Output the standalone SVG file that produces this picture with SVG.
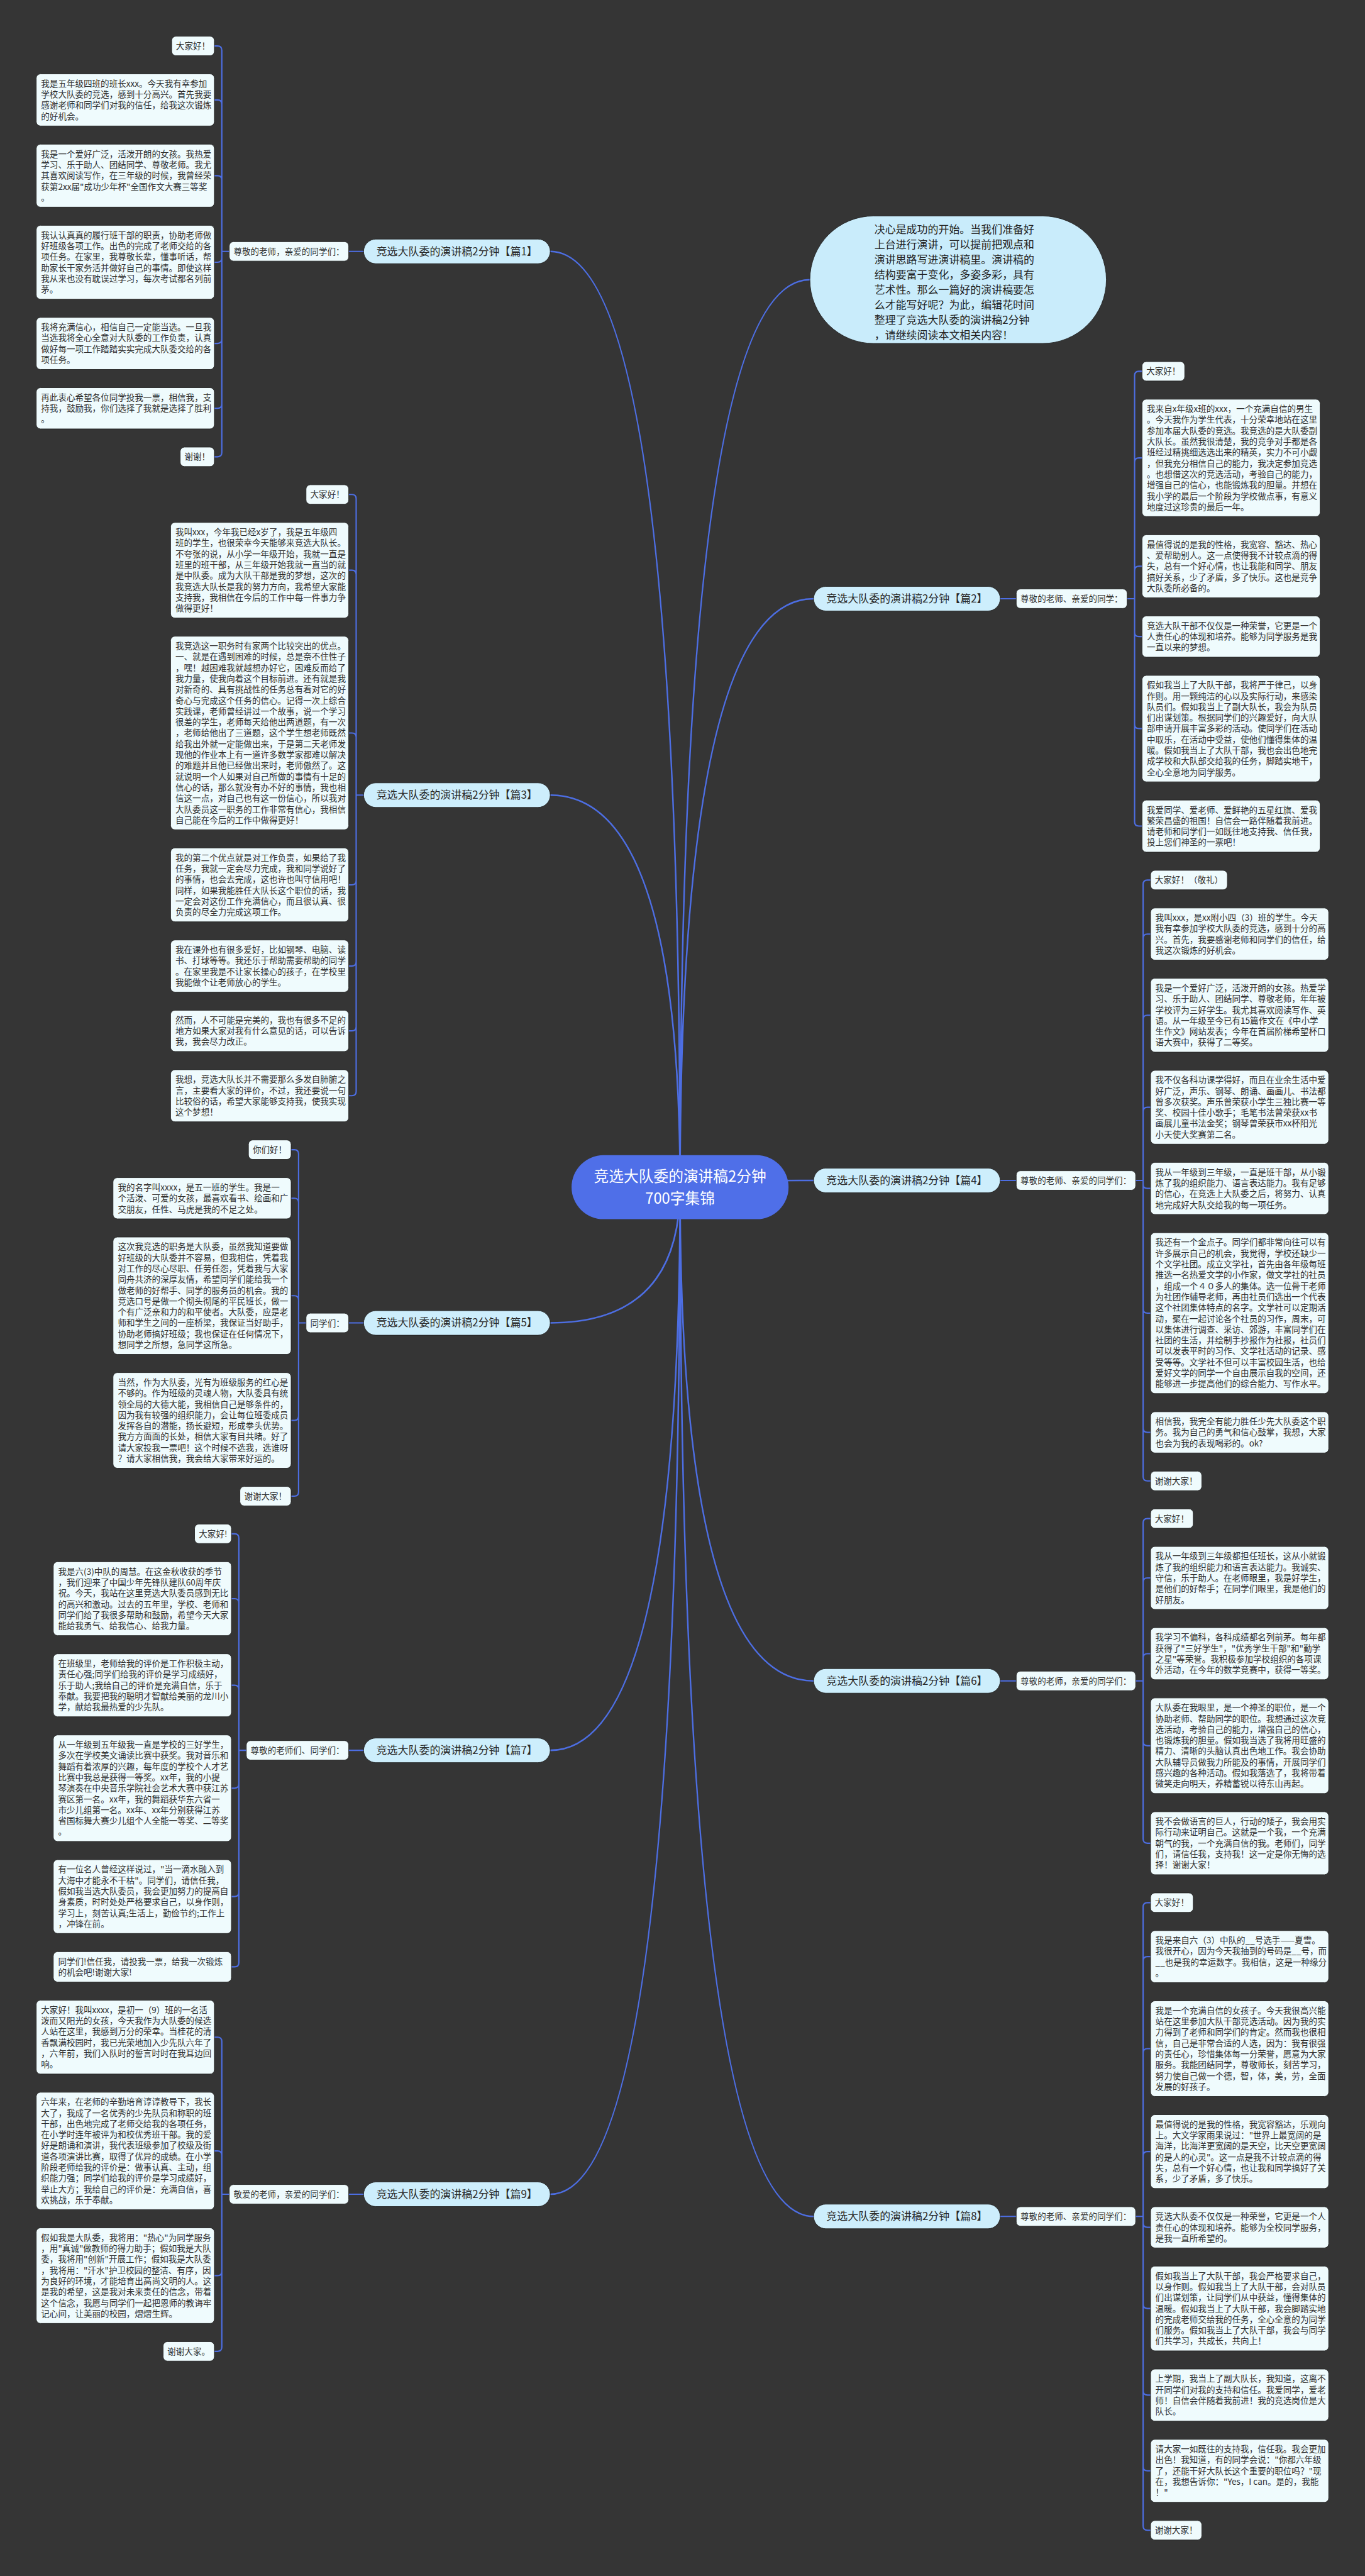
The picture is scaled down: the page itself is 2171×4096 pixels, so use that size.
<svg xmlns="http://www.w3.org/2000/svg" width="2171" height="4096" viewBox="0 0 2171 4096">
<style>
.t{font-family:"Noto Sans CJK SC","Noto Sans",sans-serif;font-size:16px;fill:#303030}
.lf{fill:#effbfd;stroke:#1f1f1f;stroke-width:1}
.pl{fill:#cdeefc;stroke:#1f1f1f;stroke-width:1}
.pt{font-family:"Noto Sans CJK SC","Noto Sans",sans-serif;font-size:20px;fill:#2a2a2a;text-anchor:middle}
.cn{fill:none;stroke:#4d6ee3;stroke-width:2.5;stroke-linecap:round}
.mc{fill:none;stroke:#4d6ee3;stroke-width:3}
</style>
<rect width="2171" height="4096" fill="#353535"/>
<g transform="scale(0.848)">
<g id="connectors">
<path class="mc" d="M1275.5 2226Q1275.5 471.4 1032 471.4M1275.5 2226Q1275.5 1490.9 1032 1490.9M1275.5 2226Q1275.5 2480.6 1032 2480.6M1275.5 2226Q1275.5 3282 1032 3282M1275.5 2226Q1275.5 4114.4 1032 4114.4M1275.5 2226Q1275.5 1122.6 1526 1122.6M1275.5 2226Q1275.5 2213.5 1526 2213.5M1275.5 2226Q1275.5 3151.8 1526 3151.8M1275.5 2226Q1275.5 4156 1526 4156M1275.5 2226Q1275.5 524.5 1519 524.5"/>
<path class="cn" d="M682 471.4H654M430 471.4H416V94.2Q416 86.2 408 86.2H402M416 471.4V195.4Q416 187.4 408 187.4H402M416 471.4V337.4Q416 329.4 408 329.4H402M416 471.4V483.8Q416 491.8 408 491.8H402M416 471.4V636Q416 644 408 644H402M416 471.4V757.6Q416 765.6 408 765.6H402M416 471.4V848.6Q416 856.6 408 856.6H402"/>
<path class="cn" d="M682 1490.9H668V935.2Q668 927.2 660 927.2H654M668 1490.9V1077.2Q668 1069.2 660 1069.2H654M668 1490.9V1382.4Q668 1374.4 660 1374.4H654M668 1490.9V1651.2Q668 1659.2 660 1659.2H654M668 1490.9V1803.4Q668 1811.4 660 1811.4H654M668 1490.9V1925Q668 1933 660 1933H654M668 1490.9V2046.6Q668 2054.6 660 2054.6H654"/>
<path class="cn" d="M682 2480.6H654M574 2480.6H560V2163.8Q560 2155.8 552 2155.8H546M560 2480.6V2254.8Q560 2246.8 552 2246.8H546M560 2480.6V2437.6Q560 2429.6 552 2429.6H546M560 2480.6V2655.4Q560 2663.4 552 2663.4H546M560 2480.6V2797.4Q560 2805.4 552 2805.4H546"/>
<path class="cn" d="M682 3282H654M462 3282H448V2884Q448 2876 440 2876H434M448 3282V3005.6Q448 2997.6 440 2997.6H434M448 3282V3168Q448 3160 440 3160H434M448 3282V3345Q448 3353 440 3353H434M448 3282V3548.2Q448 3556.2 440 3556.2H434M448 3282V3680Q448 3688 440 3688H434"/>
<path class="cn" d="M682 4114.4H654M430 4114.4H416V3827.8Q416 3819.8 408 3819.8H402M416 4114.4V4041.2Q416 4033.2 408 4033.2H402M416 4114.4V4259Q416 4267 408 4267H402M416 4114.4V4401Q416 4409 408 4409H402"/>
<path class="cn" d="M1876 1122.6H1906M2114 1122.6H2128V704.2Q2128 696.2 2136 696.2H2142M2128 1122.6V866.6Q2128 858.6 2136 858.6H2142M2128 1122.6V1069.8Q2128 1061.8 2136 1061.8H2142M2128 1122.6V1185.6Q2128 1193.6 2136 1193.6H2142M2128 1122.6V1358.2Q2128 1366.2 2136 1366.2H2142M2128 1122.6V1541Q2128 1549 2136 1549H2142"/>
<path class="cn" d="M1876 2213.5H1906M2130 2213.5H2144V1658.2Q2144 1650.2 2152 1650.2H2158M2144 2213.5V1759.4Q2144 1751.4 2152 1751.4H2158M2144 2213.5V1911.6Q2144 1903.6 2152 1903.6H2158M2144 2213.5V2084.2Q2144 2076.2 2152 2076.2H2158M2144 2213.5V2220.4Q2144 2228.4 2152 2228.4H2158M2144 2213.5V2454.2Q2144 2462.2 2152 2462.2H2158M2144 2213.5V2677.8Q2144 2685.8 2152 2685.8H2158M2144 2213.5V2768.8Q2144 2776.8 2152 2776.8H2158"/>
<path class="cn" d="M1876 3151.8H1906M2130 3151.8H2144V2855.4Q2144 2847.4 2152 2847.4H2158M2144 3151.8V2966.8Q2144 2958.8 2152 2958.8H2158M2144 3151.8V3108.8Q2144 3100.8 2152 3100.8H2158M2144 3151.8V3265.4Q2144 3273.4 2152 3273.4H2158M2144 3151.8V3448.2Q2144 3456.2 2152 3456.2H2158"/>
<path class="cn" d="M1876 4156H1906M2130 4156H2144V3575.6Q2144 3567.6 2152 3567.6H2158M2144 4156V3676.8Q2144 3668.8 2152 3668.8H2158M2144 4156V3849.4Q2144 3841.4 2152 3841.4H2158M2144 4156V4042.4Q2144 4034.4 2152 4034.4H2158M2144 4156V4168.4Q2144 4176.4 2152 4176.4H2158M2144 4156V4320.6Q2144 4328.6 2152 4328.6H2158M2144 4156V4483Q2144 4491 2152 4491H2158M2144 4156V4625Q2144 4633 2152 4633H2158M2144 4156V4736.4Q2144 4744.4 2152 4744.4H2158"/>
</g>

<g id="center">
<rect x="1072" y="2166" width="407" height="120" rx="60" fill="#4f6fe8"/>
<text class="pt" x="1275.5" y="2215.6" style="font-size:28px;fill:#ffffff">竞选大队委的演讲稿2分钟</text>
<text class="pt" x="1275.5" y="2257.6" style="font-size:28px;fill:#ffffff">700字集锦</text>
</g>

<g id="callout">
<rect x="1519" y="405" width="556" height="239" rx="119.5" fill="#c9ecfb" stroke="#1f1f1f" stroke-width="1"/>
<text class="t" x="1640" y="437.6" style="font-size:20px;fill:#222">
<tspan x="1640">决心是成功的开始。当我们准备好</tspan>
<tspan x="1640" dy="28.3">上台进行演讲，可以提前把观点和</tspan>
<tspan x="1640" dy="28.3">演讲思路写进演讲稿里。演讲稿的</tspan>
<tspan x="1640" dy="28.3">结构要富于变化，多姿多彩，具有</tspan>
<tspan x="1640" dy="28.3">艺术性。那么一篇好的演讲稿要怎</tspan>
<tspan x="1640" dy="28.3">么才能写好呢？为此，编辑花时间</tspan>
<tspan x="1640" dy="28.3">整理了竞选大队委的演讲稿2分钟</tspan>
<tspan x="1640" dy="28.3">，请继续阅读本文相关内容！</tspan>
</text>
</g>

<!-- PART 1 -->
<g id="b1"><rect class="pl" x="682" y="448.4" width="350" height="46" rx="23"/><text class="pt" x="857" y="478.4">竞选大队委的演讲稿2分钟【篇1】</text></g>
<g id="b1-l"><rect class="lf" x="430" y="453.2" width="224" height="36.4" rx="8"/><text class="t" x="438" y="477.4">尊敬的老师，亲爱的同学们：</text></g>
<g id="b1-1"><rect class="lf" x="322" y="68" width="80" height="36.4" rx="8"/><text class="t" x="330" y="92">大家好！</text></g>
<g id="b1-2"><rect class="lf" x="68" y="138.6" width="334" height="97.6" rx="8"/><text class="t" x="77" y="162.6"><tspan x="77">我是五年级四班的班长xxx。今天我有幸参加</tspan><tspan x="77" dy="20.4">学校大队委的竞选，感到十分高兴。首先我要</tspan><tspan x="77" dy="20.4">感谢老师和同学们对我的信任，给我这次锻炼</tspan><tspan x="77" dy="20.4">的好机会。</tspan></text></g>
<g id="b1-3"><rect class="lf" x="68" y="270.4" width="334" height="118" rx="8"/><text class="t" x="77" y="294.4"><tspan x="77">我是一个爱好广泛，活泼开朗的女孩。我热爱</tspan><tspan x="77" dy="20.4">学习、乐于助人、团结同学、尊敬老师。我尤</tspan><tspan x="77" dy="20.4">其喜欢阅读写作，在三年级的时候，我曾经荣</tspan><tspan x="77" dy="20.4">获第2xx届"成功少年杯"全国作文大赛三等奖</tspan><tspan x="77" dy="20.4">。</tspan></text></g>
<g id="b1-4"><rect class="lf" x="68" y="422.6" width="334" height="138.4" rx="8"/><text class="t" x="77" y="446.6"><tspan x="77">我认认真真的履行班干部的职责，协助老师做</tspan><tspan x="77" dy="20.4">好班级各项工作。出色的完成了老师交给的各</tspan><tspan x="77" dy="20.4">项任务。在家里，我尊敬长辈，懂事听话，帮</tspan><tspan x="77" dy="20.4">助家长干家务活并做好自己的事情。即使这样</tspan><tspan x="77" dy="20.4">我从来也没有耽误过学习，每次考试都名列前</tspan><tspan x="77" dy="20.4">茅。</tspan></text></g>
<g id="b1-5"><rect class="lf" x="68" y="595.2" width="334" height="97.6" rx="8"/><text class="t" x="77" y="619.2"><tspan x="77">我将充满信心，相信自己一定能当选。一旦我</tspan><tspan x="77" dy="20.4">当选我将全心全意对大队委的工作负责，认真</tspan><tspan x="77" dy="20.4">做好每一项工作踏踏实实完成大队委交给的各</tspan><tspan x="77" dy="20.4">项任务。</tspan></text></g>
<g id="b1-6"><rect class="lf" x="68" y="727" width="334" height="77.2" rx="8"/><text class="t" x="77" y="751"><tspan x="77">再此衷心希望各位同学投我一票，相信我，支</tspan><tspan x="77" dy="20.4">持我，鼓励我，你们选择了我就是选择了胜利</tspan><tspan x="77" dy="20.4">。</tspan></text></g>
<g id="b1-7"><rect class="lf" x="338" y="838.4" width="64" height="36.4" rx="8"/><text class="t" x="346" y="862.4">谢谢！</text></g>

<!-- PART 3 -->
<g id="b3"><rect class="pl" x="682" y="1467.9" width="350" height="46" rx="23"/><text class="pt" x="857" y="1497.9">竞选大队委的演讲稿2分钟【篇3】</text></g>
<g id="b3-1"><rect class="lf" x="574" y="909" width="80" height="36.4" rx="8"/><text class="t" x="582" y="933">大家好！</text></g>
<g id="b3-2"><rect class="lf" x="320" y="979.6" width="334" height="179.2" rx="8"/><text class="t" x="329" y="1003.6"><tspan x="329">我叫xxx，今年我已经x岁了，我是五年级四</tspan><tspan x="329" dy="20.4">班的学生，也很荣幸今天能够来竞选大队长。</tspan><tspan x="329" dy="20.4">不夸张的说，从小学一年级开始，我就一直是</tspan><tspan x="329" dy="20.4">班里的班干部，从三年级开始我就一直当的就</tspan><tspan x="329" dy="20.4">是中队委。成为大队干部是我的梦想，这次的</tspan><tspan x="329" dy="20.4">我竞选大队长是我的努力方向，我希望大家能</tspan><tspan x="329" dy="20.4">支持我，我相信在今后的工作中每一件事力争</tspan><tspan x="329" dy="20.4">做得更好！</tspan></text></g>
<g id="b3-3"><rect class="lf" x="320" y="1193" width="334" height="362.8" rx="8"/><text class="t" x="329" y="1217"><tspan x="329">我竞选这一职务时有家两个比较突出的优点。</tspan><tspan x="329" dy="20.4">一、就是在遇到困难的时候，总是奈不住性子</tspan><tspan x="329" dy="20.4">，嘿！越困难我就越想办好它，困难反而给了</tspan><tspan x="329" dy="20.4">我力量，使我向着这个目标前进。还有就是我</tspan><tspan x="329" dy="20.4">对新奇的、具有挑战性的任务总有着对它的好</tspan><tspan x="329" dy="20.4">奇心与完成这个任务的信心。记得一次上综合</tspan><tspan x="329" dy="20.4">实践课，老师曾经讲过一个故事，说一个学习</tspan><tspan x="329" dy="20.4">很差的学生，老师每天给他出两道题，有一次</tspan><tspan x="329" dy="20.4">，老师给他出了三道题，这个学生想老师既然</tspan><tspan x="329" dy="20.4">给我出外就一定能做出来，于是第二天老师发</tspan><tspan x="329" dy="20.4">现他的作业本上有一道许多数学家都难以解决</tspan><tspan x="329" dy="20.4">的难题并且他已经做出来时，老师傲然了。这</tspan><tspan x="329" dy="20.4">就说明一个人如果对自己所做的事情有十足的</tspan><tspan x="329" dy="20.4">信心的话，那么就没有办不好的事情，我也相</tspan><tspan x="329" dy="20.4">信这一点，对自己也有这一份信心，所以我对</tspan><tspan x="329" dy="20.4">大队委员这一职务的工作非常有信心，我相信</tspan><tspan x="329" dy="20.4">自己能在今后的工作中做得更好！</tspan></text></g>
<g id="b3-4"><rect class="lf" x="320" y="1590" width="334" height="138.4" rx="8"/><text class="t" x="329" y="1614"><tspan x="329">我的第二个优点就是对工作负责，如果给了我</tspan><tspan x="329" dy="20.4">任务，我就一定会尽力完成，我和同学说好了</tspan><tspan x="329" dy="20.4">的事情，也会去完成，这也许也叫守信用吧！</tspan><tspan x="329" dy="20.4">同样，如果我能胜任大队长这个职位的话，我</tspan><tspan x="329" dy="20.4">一定会对这份工作充满信心，而且很认真、很</tspan><tspan x="329" dy="20.4">负责的尽全力完成这项工作。</tspan></text></g>
<g id="b3-5"><rect class="lf" x="320" y="1762.6" width="334" height="97.6" rx="8"/><text class="t" x="329" y="1786.6"><tspan x="329">我在课外也有很多爱好，比如钢琴、电脑、读</tspan><tspan x="329" dy="20.4">书、打球等等。我还乐于帮助需要帮助的同学</tspan><tspan x="329" dy="20.4">。在家里我是不让家长操心的孩子，在学校里</tspan><tspan x="329" dy="20.4">我能做个让老师放心的学生。</tspan></text></g>
<g id="b3-6"><rect class="lf" x="320" y="1894.4" width="334" height="77.2" rx="8"/><text class="t" x="329" y="1918.4"><tspan x="329">然而，人不可能是完美的，我也有很多不足的</tspan><tspan x="329" dy="20.4">地方如果大家对我有什么意见的话，可以告诉</tspan><tspan x="329" dy="20.4">我，我会尽力改正。</tspan></text></g>
<g id="b3-7"><rect class="lf" x="320" y="2005.8" width="334" height="97.6" rx="8"/><text class="t" x="329" y="2029.8"><tspan x="329">我想，竞选大队长并不需要那么多发自肺腑之</tspan><tspan x="329" dy="20.4">言，主要看大家的评价，不过，我还要说一句</tspan><tspan x="329" dy="20.4">比较俗的话，希望大家能够支持我，使我实现</tspan><tspan x="329" dy="20.4">这个梦想！</tspan></text></g>

<!-- PART 5 -->
<g id="b5"><rect class="pl" x="682" y="2457.6" width="350" height="46" rx="23"/><text class="pt" x="857" y="2487.6">竞选大队委的演讲稿2分钟【篇5】</text></g>
<g id="b5-l"><rect class="lf" x="574" y="2462.4" width="80" height="36.4" rx="8"/><text class="t" x="582" y="2486.6">同学们：</text></g>
<g id="b5-1"><rect class="lf" x="466" y="2137.6" width="80" height="36.4" rx="8"/><text class="t" x="474" y="2161.6">你们好！</text></g>
<g id="b5-2"><rect class="lf" x="212" y="2208.2" width="334" height="77.2" rx="8"/><text class="t" x="221" y="2232.2"><tspan x="221">我的名字叫xxxx，是五一班的学生。我是一</tspan><tspan x="221" dy="20.4">个活泼、可爱的女孩，最喜欢看书、绘画和广</tspan><tspan x="221" dy="20.4">交朋友，任性、马虎是我的不足之处。</tspan></text></g>
<g id="b5-3"><rect class="lf" x="212" y="2319.6" width="334" height="220" rx="8"/><text class="t" x="221" y="2343.6"><tspan x="221">这次我竞选的职务是大队委，虽然我知道要做</tspan><tspan x="221" dy="20.4">好班级的大队委并不容易，但我相信，凭着我</tspan><tspan x="221" dy="20.4">对工作的尽心尽职、任劳任怨，凭着我与大家</tspan><tspan x="221" dy="20.4">同舟共济的深厚友情，希望同学们能给我一个</tspan><tspan x="221" dy="20.4">做老师的好帮手、同学的服务员的机会。我的</tspan><tspan x="221" dy="20.4">竞选口号是做一个彻头彻尾的平民班长，做一</tspan><tspan x="221" dy="20.4">个有广泛亲和力的和平使者。大队委，应是老</tspan><tspan x="221" dy="20.4">师和学生之间的一座桥梁，我保证当好助手，</tspan><tspan x="221" dy="20.4">协助老师搞好班级；我也保证在任何情况下，</tspan><tspan x="221" dy="20.4">想同学之所想，急同学这所急。</tspan></text></g>
<g id="b5-4"><rect class="lf" x="212" y="2573.8" width="334" height="179.2" rx="8"/><text class="t" x="221" y="2597.8"><tspan x="221">当然，作为大队委，光有为班级服务的红心是</tspan><tspan x="221" dy="20.4">不够的。作为班级的灵魂人物，大队委具有统</tspan><tspan x="221" dy="20.4">领全局的大德大能，我相信自己是够条件的，</tspan><tspan x="221" dy="20.4">因为我有较强的组织能力，会让每位班委成员</tspan><tspan x="221" dy="20.4">发挥各自的潜能，扬长避短，形成拳头优势。</tspan><tspan x="221" dy="20.4">我方方面面的长处，相信大家有目共睹。好了</tspan><tspan x="221" dy="20.4">请大家投我一票吧！这个时候不选我，选谁呀</tspan><tspan x="221" dy="20.4">？请大家相信我，我会给大家带来好运的。</tspan></text></g>
<g id="b5-5"><rect class="lf" x="450" y="2787.2" width="96" height="36.4" rx="8"/><text class="t" x="458" y="2811.2">谢谢大家！</text></g>

<!-- PART 7 -->
<g id="b7"><rect class="pl" x="682" y="3259" width="350" height="46" rx="23"/><text class="pt" x="857" y="3289">竞选大队委的演讲稿2分钟【篇7】</text></g>
<g id="b7-l"><rect class="lf" x="462" y="3263.8" width="192" height="36.4" rx="8"/><text class="t" x="470" y="3288">尊敬的老师们、同学们：</text></g>
<g id="b7-1"><rect class="lf" x="365" y="2857.8" width="69" height="36.4" rx="8"/><text class="t" x="373" y="2881.8">大家好!</text></g>
<g id="b7-2"><rect class="lf" x="100" y="2928.4" width="334" height="138.4" rx="8"/><text class="t" x="109" y="2952.4"><tspan x="109">我是六(3)中队的周慧。在这金秋收获的季节</tspan><tspan x="109" dy="20.4">，我们迎来了中国少年先锋队建队60周年庆</tspan><tspan x="109" dy="20.4">祝。今天，我站在这里竞选大队委员感到无比</tspan><tspan x="109" dy="20.4">的高兴和激动。过去的五年里，学校、老师和</tspan><tspan x="109" dy="20.4">同学们给了我很多帮助和鼓励，希望今天大家</tspan><tspan x="109" dy="20.4">能给我勇气、给我信心、给我力量。</tspan></text></g>
<g id="b7-3"><rect class="lf" x="100" y="3101" width="334" height="118" rx="8"/><text class="t" x="109" y="3125"><tspan x="109">在班级里，老师给我的评价是工作积极主动，</tspan><tspan x="109" dy="20.4">责任心强;同学们给我的评价是学习成绩好，</tspan><tspan x="109" dy="20.4">乐于助人;我给自己的评价是充满自信，乐于</tspan><tspan x="109" dy="20.4">奉献。我要把我的聪明才智献给美丽的龙川小</tspan><tspan x="109" dy="20.4">学，献给我最热爱的少先队。</tspan></text></g>
<g id="b7-4"><rect class="lf" x="100" y="3253.2" width="334" height="199.6" rx="8"/><text class="t" x="109" y="3277.2"><tspan x="109">从一年级到五年级我一直是学校的三好学生，</tspan><tspan x="109" dy="20.4">多次在学校美文诵读比赛中获奖。我对音乐和</tspan><tspan x="109" dy="20.4">舞蹈有着浓厚的兴趣，每年度的学校个人才艺</tspan><tspan x="109" dy="20.4">比赛中我总是获得一等奖。xx年，我的小提</tspan><tspan x="109" dy="20.4">琴演奏在中央音乐学院社会艺术大赛中获江苏</tspan><tspan x="109" dy="20.4">赛区第一名。xx年，我的舞蹈获华东六省一</tspan><tspan x="109" dy="20.4">市少儿组第一名。xx年、xx年分别获得江苏</tspan><tspan x="109" dy="20.4">省国标舞大赛少儿组个人全能一等奖、二等奖</tspan><tspan x="109" dy="20.4">。</tspan></text></g>
<g id="b7-5"><rect class="lf" x="100" y="3487" width="334" height="138.4" rx="8"/><text class="t" x="109" y="3511"><tspan x="109">有一位名人曾经这样说过，"当一滴水融入到</tspan><tspan x="109" dy="20.4">大海中才能永不干枯"。同学们，请信任我，</tspan><tspan x="109" dy="20.4">假如我当选大队委员，我会更加努力的提高自</tspan><tspan x="109" dy="20.4">身素质，时时处处严格要求自己，以身作则，</tspan><tspan x="109" dy="20.4">学习上，刻苦认真;生活上，勤俭节约;工作上</tspan><tspan x="109" dy="20.4">，冲锋在前。</tspan></text></g>
<g id="b7-6"><rect class="lf" x="100" y="3659.6" width="334" height="56.8" rx="8"/><text class="t" x="109" y="3683.6"><tspan x="109">同学们!信任我，请投我一票，给我一次锻炼</tspan><tspan x="109" dy="20.4">的机会吧!谢谢大家!</tspan></text></g>

<!-- PART 9 -->
<g id="b9"><rect class="pl" x="682" y="4091.4" width="350" height="46" rx="23"/><text class="pt" x="857" y="4121.4">竞选大队委的演讲稿2分钟【篇9】</text></g>
<g id="b9-l"><rect class="lf" x="430" y="4096.2" width="224" height="36.4" rx="8"/><text class="t" x="438" y="4120.4">敬爱的老师，亲爱的同学们：</text></g>
<g id="b9-1"><rect class="lf" x="68" y="3750.6" width="334" height="138.4" rx="8"/><text class="t" x="77" y="3774.6"><tspan x="77">大家好！我叫xxxx，是初一（9）班的一名活</tspan><tspan x="77" dy="20.4">泼而又阳光的女孩，今天我作为大队委的候选</tspan><tspan x="77" dy="20.4">人站在这里，我感到万分的荣幸。当桂花的清</tspan><tspan x="77" dy="20.4">香飘满校园时，我已光荣地加入少先队六年了</tspan><tspan x="77" dy="20.4">，六年前，我们入队时的誓言时时在我耳边回</tspan><tspan x="77" dy="20.4">响。</tspan></text></g>
<g id="b9-2"><rect class="lf" x="68" y="3923.2" width="334" height="220" rx="8"/><text class="t" x="77" y="3947.2"><tspan x="77">六年来，在老师的辛勤培育谆谆教导下，我长</tspan><tspan x="77" dy="20.4">大了，我成了一名优秀的少先队员和称职的班</tspan><tspan x="77" dy="20.4">干部，出色地完成了老师交给我的各项任务，</tspan><tspan x="77" dy="20.4">在小学时连年被评为和校优秀班干部。我的爱</tspan><tspan x="77" dy="20.4">好是朗诵和演讲，我代表班级参加了校级及街</tspan><tspan x="77" dy="20.4">道各项演讲比赛，取得了优异的成绩。在小学</tspan><tspan x="77" dy="20.4">阶段老师给我的评价是：做事认真、主动，组</tspan><tspan x="77" dy="20.4">织能力强；同学们给我的评价是学习成绩好，</tspan><tspan x="77" dy="20.4">举止大方；我给自己的评价是：充满自信，喜</tspan><tspan x="77" dy="20.4">欢挑战，乐于奉献。</tspan></text></g>
<g id="b9-3"><rect class="lf" x="68" y="4177.4" width="334" height="179.2" rx="8"/><text class="t" x="77" y="4201.4"><tspan x="77">假如我是大队委，我将用："热心"为同学服务</tspan><tspan x="77" dy="20.4">，用"真诚"做教师的得力助手；假如我是大队</tspan><tspan x="77" dy="20.4">委，我将用"创新"开展工作；假如我是大队委</tspan><tspan x="77" dy="20.4">，我将用："汗水"护卫校园的整洁、有序，因</tspan><tspan x="77" dy="20.4">为良好的环境，才能培育出高尚文明的人。这</tspan><tspan x="77" dy="20.4">是我的希望，这是我对未来责任的信念，带着</tspan><tspan x="77" dy="20.4">这个信念，我愿与同学们一起把恩师的教诲牢</tspan><tspan x="77" dy="20.4">记心间，让美丽的校园，熠熠生辉。</tspan></text></g>
<g id="b9-4"><rect class="lf" x="306" y="4390.8" width="96" height="36.4" rx="8"/><text class="t" x="314" y="4414.8">谢谢大家。</text></g>

<!-- PART 2 -->
<g id="b2"><rect class="pl" x="1526" y="1099.6" width="350" height="46" rx="23"/><text class="pt" x="1701" y="1129.6">竞选大队委的演讲稿2分钟【篇2】</text></g>
<g id="b2-l"><rect class="lf" x="1906" y="1104.4" width="208" height="36.4" rx="8"/><text class="t" x="1914" y="1128.6">尊敬的老师、亲爱的同学：</text></g>
<g id="b2-1"><rect class="lf" x="2142" y="678" width="80" height="36.4" rx="8"/><text class="t" x="2150" y="702">大家好！</text></g>
<g id="b2-2"><rect class="lf" x="2142" y="748.6" width="334" height="220" rx="8"/><text class="t" x="2151" y="772.6"><tspan x="2151">我来自x年级x班的xxx，一个充满自信的男生</tspan><tspan x="2151" dy="20.4">。今天我作为学生代表，十分荣幸地站在这里</tspan><tspan x="2151" dy="20.4">参加本届大队委的竞选。我竞选的是大队委副</tspan><tspan x="2151" dy="20.4">大队长。虽然我很清楚，我的竞争对手都是各</tspan><tspan x="2151" dy="20.4">班经过精挑细选选出来的精英，实力不可小觑</tspan><tspan x="2151" dy="20.4">，但我充分相信自己的能力，我决定参加竞选</tspan><tspan x="2151" dy="20.4">。也想借这次的竞选活动，考验自己的能力，</tspan><tspan x="2151" dy="20.4">增强自己的信心，也能锻炼我的胆量。并想在</tspan><tspan x="2151" dy="20.4">我小学的最后一个阶段为学校做点事，有意义</tspan><tspan x="2151" dy="20.4">地度过这珍贵的最后一年。</tspan></text></g>
<g id="b2-3"><rect class="lf" x="2142" y="1002.8" width="334" height="118" rx="8"/><text class="t" x="2151" y="1026.8"><tspan x="2151">最值得说的是我的性格，我宽容、豁达、热心</tspan><tspan x="2151" dy="20.4">、爱帮助别人。这一点使得我不计较点滴的得</tspan><tspan x="2151" dy="20.4">失，总有一个好心情，也让我能和同学、朋友</tspan><tspan x="2151" dy="20.4">搞好关系，少了矛盾，多了快乐。这也是竞争</tspan><tspan x="2151" dy="20.4">大队委所必备的。</tspan></text></g>
<g id="b2-4"><rect class="lf" x="2142" y="1155" width="334" height="77.2" rx="8"/><text class="t" x="2151" y="1179"><tspan x="2151">竞选大队干部不仅仅是一种荣誉，它更是一个</tspan><tspan x="2151" dy="20.4">人责任心的体现和培养。能够为同学服务是我</tspan><tspan x="2151" dy="20.4">一直以来的梦想。</tspan></text></g>
<g id="b2-5"><rect class="lf" x="2142" y="1266.4" width="334" height="199.6" rx="8"/><text class="t" x="2151" y="1290.4"><tspan x="2151">假如我当上了大队干部，我将严于律己，以身</tspan><tspan x="2151" dy="20.4">作则。用一颗纯洁的心以及实际行动，来感染</tspan><tspan x="2151" dy="20.4">队员们。假如我当上了副大队长，我会为队员</tspan><tspan x="2151" dy="20.4">们出谋划策。根据同学们的兴趣爱好，向大队</tspan><tspan x="2151" dy="20.4">部申请开展丰富多彩的活动。使同学们在活动</tspan><tspan x="2151" dy="20.4">中取乐，在活动中受益，使他们懂得集体的温</tspan><tspan x="2151" dy="20.4">暖。假如我当上了大队干部，我也会出色地完</tspan><tspan x="2151" dy="20.4">成学校和大队部交给我的任务，脚踏实地干，</tspan><tspan x="2151" dy="20.4">全心全意地为同学服务。</tspan></text></g>
<g id="b2-6"><rect class="lf" x="2142" y="1500.2" width="334" height="97.6" rx="8"/><text class="t" x="2151" y="1524.2"><tspan x="2151">我爱同学、爱老师、爱鲜艳的五星红旗、爱我</tspan><tspan x="2151" dy="20.4">繁荣昌盛的祖国！自信会一路伴随着我前进。</tspan><tspan x="2151" dy="20.4">请老师和同学们一如既往地支持我、信任我，</tspan><tspan x="2151" dy="20.4">投上您们神圣的一票吧！</tspan></text></g>

<!-- PART 4 -->
<g id="b4"><rect class="pl" x="1526" y="2190.5" width="350" height="46" rx="23"/><text class="pt" x="1701" y="2220.5">竞选大队委的演讲稿2分钟【篇4】</text></g>
<g id="b4-l"><rect class="lf" x="1906" y="2195.3" width="224" height="36.4" rx="8"/><text class="t" x="1914" y="2219.5">尊敬的老师、亲爱的同学们：</text></g>
<g id="b4-1"><rect class="lf" x="2158" y="1632" width="144" height="36.4" rx="8"/><text class="t" x="2166" y="1656">大家好！（敬礼）</text></g>
<g id="b4-2"><rect class="lf" x="2158" y="1702.6" width="334" height="97.6" rx="8"/><text class="t" x="2167" y="1726.6"><tspan x="2167">我叫xxx，是xx附小四（3）班的学生。今天</tspan><tspan x="2167" dy="20.4">我有幸参加学校大队委的竞选，感到十分的高</tspan><tspan x="2167" dy="20.4">兴。首先，我要感谢老师和同学们的信任，给</tspan><tspan x="2167" dy="20.4">我这次锻炼的好机会。</tspan></text></g>
<g id="b4-3"><rect class="lf" x="2158" y="1834.4" width="334" height="138.4" rx="8"/><text class="t" x="2167" y="1858.4"><tspan x="2167">我是一个爱好广泛，活泼开朗的女孩。热爱学</tspan><tspan x="2167" dy="20.4">习、乐于助人、团结同学、尊敬老师，年年被</tspan><tspan x="2167" dy="20.4">学校评为三好学生。我尤其喜欢阅读写作、英</tspan><tspan x="2167" dy="20.4">语。从一年级至今已有15篇作文在《中小学</tspan><tspan x="2167" dy="20.4">生作文》网站发表；今年在首届阶梯希望杯口</tspan><tspan x="2167" dy="20.4">语大赛中，获得了二等奖。</tspan></text></g>
<g id="b4-4"><rect class="lf" x="2158" y="2007" width="334" height="138.4" rx="8"/><text class="t" x="2167" y="2031"><tspan x="2167">我不仅各科功课学得好，而且在业余生活中爱</tspan><tspan x="2167" dy="20.4">好广泛，声乐、钢琴、朗诵、画画儿、书法都</tspan><tspan x="2167" dy="20.4">曾多次获奖。声乐曾荣获小学生三独比赛一等</tspan><tspan x="2167" dy="20.4">奖、校园十佳小歌手；毛笔书法曾荣获xx书</tspan><tspan x="2167" dy="20.4">画展儿童书法金奖；钢琴曾荣获市xx杯阳光</tspan><tspan x="2167" dy="20.4">小天使大奖赛第二名。</tspan></text></g>
<g id="b4-5"><rect class="lf" x="2158" y="2179.6" width="334" height="97.6" rx="8"/><text class="t" x="2167" y="2203.6"><tspan x="2167">我从一年级到三年级，一直是班干部，从小锻</tspan><tspan x="2167" dy="20.4">炼了我的组织能力、语言表达能力。我有足够</tspan><tspan x="2167" dy="20.4">的信心，在竞选上大队委之后，将努力、认真</tspan><tspan x="2167" dy="20.4">地完成好大队交给我的每一项任务。</tspan></text></g>
<g id="b4-6"><rect class="lf" x="2158" y="2311.4" width="334" height="301.6" rx="8"/><text class="t" x="2167" y="2335.4"><tspan x="2167">我还有一个金点子。同学们都非常向往可以有</tspan><tspan x="2167" dy="20.4">许多展示自己的机会，我觉得，学校还缺少一</tspan><tspan x="2167" dy="20.4">个文学社团。成立文学社，首先由各年级每班</tspan><tspan x="2167" dy="20.4">推选一名热爱文学的小作家，做文学社的社员</tspan><tspan x="2167" dy="20.4">，组成一个４０多人的集体。选一位骨干老师</tspan><tspan x="2167" dy="20.4">为社团作辅导老师，再由社员们选出一个代表</tspan><tspan x="2167" dy="20.4">这个社团集体特点的名字。文学社可以定期活</tspan><tspan x="2167" dy="20.4">动，聚在一起讨论各个社员的习作，周末，可</tspan><tspan x="2167" dy="20.4">以集体进行调查、采访、郊游，丰富同学们在</tspan><tspan x="2167" dy="20.4">社团的生活，并绘制手抄报作为社报，社员们</tspan><tspan x="2167" dy="20.4">可以发表平时的习作、文学社活动的记录、感</tspan><tspan x="2167" dy="20.4">受等等。文学社不但可以丰富校园生活，也给</tspan><tspan x="2167" dy="20.4">爱好文学的同学一个自由展示自我的空间，还</tspan><tspan x="2167" dy="20.4">能够进一步提高他们的综合能力、写作水平。</tspan></text></g>
<g id="b4-7"><rect class="lf" x="2158" y="2647.2" width="334" height="77.2" rx="8"/><text class="t" x="2167" y="2671.2"><tspan x="2167">相信我，我完全有能力胜任少先大队委这个职</tspan><tspan x="2167" dy="20.4">务。我为自己的勇气和信心鼓掌，我想，大家</tspan><tspan x="2167" dy="20.4">也会为我的表现喝彩的。ok?</tspan></text></g>
<g id="b4-8"><rect class="lf" x="2158" y="2758.6" width="96" height="36.4" rx="8"/><text class="t" x="2166" y="2782.6">谢谢大家！</text></g>

<!-- PART 6 -->
<g id="b6"><rect class="pl" x="1526" y="3128.8" width="350" height="46" rx="23"/><text class="pt" x="1701" y="3158.8">竞选大队委的演讲稿2分钟【篇6】</text></g>
<g id="b6-l"><rect class="lf" x="1906" y="3133.6" width="224" height="36.4" rx="8"/><text class="t" x="1914" y="3157.8">尊敬的老师，亲爱的同学们：</text></g>
<g id="b6-1"><rect class="lf" x="2158" y="2829.2" width="80" height="36.4" rx="8"/><text class="t" x="2166" y="2853.2">大家好！</text></g>
<g id="b6-2"><rect class="lf" x="2158" y="2899.8" width="334" height="118" rx="8"/><text class="t" x="2167" y="2923.8"><tspan x="2167">我从一年级到三年级都担任班长，这从小就锻</tspan><tspan x="2167" dy="20.4">炼了我的组织能力和语言表达能力。我诚实、</tspan><tspan x="2167" dy="20.4">守信，乐于助人。在老师眼里，我是好学生，</tspan><tspan x="2167" dy="20.4">是他们的好帮手；在同学们眼里，我是他们的</tspan><tspan x="2167" dy="20.4">好朋友。</tspan></text></g>
<g id="b6-3"><rect class="lf" x="2158" y="3052" width="334" height="97.6" rx="8"/><text class="t" x="2167" y="3076"><tspan x="2167">我学习不偏科，各科成绩都名列前茅。每年都</tspan><tspan x="2167" dy="20.4">获得了"三好学生"，"优秀学生干部"和"勤学</tspan><tspan x="2167" dy="20.4">之星"等荣誉。我积极参加学校组织的各项课</tspan><tspan x="2167" dy="20.4">外活动，在今年的数学竞赛中，获得一等奖。</tspan></text></g>
<g id="b6-4"><rect class="lf" x="2158" y="3183.8" width="334" height="179.2" rx="8"/><text class="t" x="2167" y="3207.8"><tspan x="2167">大队委在我眼里，是一个神圣的职位，是一个</tspan><tspan x="2167" dy="20.4">协助老师、帮助同学的职位。我想通过这次竞</tspan><tspan x="2167" dy="20.4">选活动，考验自己的能力，增强自己的信心，</tspan><tspan x="2167" dy="20.4">也锻炼我的胆量。假如我当选了我将用旺盛的</tspan><tspan x="2167" dy="20.4">精力、清晰的头脑认真出色地工作。我会协助</tspan><tspan x="2167" dy="20.4">大队辅导员做我力所能及的事情，开展同学们</tspan><tspan x="2167" dy="20.4">感兴趣的各种活动。假如我落选了，我将带着</tspan><tspan x="2167" dy="20.4">微笑走向明天，养精蓄锐以待东山再起。</tspan></text></g>
<g id="b6-5"><rect class="lf" x="2158" y="3397.2" width="334" height="118" rx="8"/><text class="t" x="2167" y="3421.2"><tspan x="2167">我不会做语言的巨人，行动的矮子，我会用实</tspan><tspan x="2167" dy="20.4">际行动来证明自己。这就是一个我，一个充满</tspan><tspan x="2167" dy="20.4">朝气的我，一个充满自信的我。老师们，同学</tspan><tspan x="2167" dy="20.4">们，请信任我，支持我！这一定是你无悔的选</tspan><tspan x="2167" dy="20.4">择！谢谢大家！</tspan></text></g>

<!-- PART 8 -->
<g id="b8"><rect class="pl" x="1526" y="4133" width="350" height="46" rx="23"/><text class="pt" x="1701" y="4163">竞选大队委的演讲稿2分钟【篇8】</text></g>
<g id="b8-l"><rect class="lf" x="1906" y="4137.8" width="224" height="36.4" rx="8"/><text class="t" x="1914" y="4162">尊敬的老师、亲爱的同学们：</text></g>
<g id="b8-1"><rect class="lf" x="2158" y="3549.4" width="80" height="36.4" rx="8"/><text class="t" x="2166" y="3573.4">大家好！</text></g>
<g id="b8-2"><rect class="lf" x="2158" y="3620" width="334" height="97.6" rx="8"/><text class="t" x="2167" y="3644"><tspan x="2167">我是来自六（3）中队的__号选手——夏雪。</tspan><tspan x="2167" dy="20.4">我很开心，因为今天我抽到的号码是__号，而</tspan><tspan x="2167" dy="20.4">__也是我的幸运数字。我相信，这是一种缘分</tspan><tspan x="2167" dy="20.4">。</tspan></text></g>
<g id="b8-3"><rect class="lf" x="2158" y="3751.8" width="334" height="179.2" rx="8"/><text class="t" x="2167" y="3775.8"><tspan x="2167">我是一个充满自信的女孩子。今天我很高兴能</tspan><tspan x="2167" dy="20.4">站在这里参加大队干部竞选活动。因为我的实</tspan><tspan x="2167" dy="20.4">力得到了老师和同学们的肯定。然而我也很相</tspan><tspan x="2167" dy="20.4">信，自己是非常合适的人选，因为：我有很强</tspan><tspan x="2167" dy="20.4">的责任心，珍惜集体每一分荣誉，愿意为大家</tspan><tspan x="2167" dy="20.4">服务。我能团结同学，尊敬师长，刻苦学习，</tspan><tspan x="2167" dy="20.4">努力使自己做一个德，智，体，美，劳，全面</tspan><tspan x="2167" dy="20.4">发展的好孩子。</tspan></text></g>
<g id="b8-4"><rect class="lf" x="2158" y="3965.2" width="334" height="138.4" rx="8"/><text class="t" x="2167" y="3989.2"><tspan x="2167">最值得说的是我的性格，我宽容豁达，乐观向</tspan><tspan x="2167" dy="20.4">上。大文学家雨果说过："世界上最宽阔的是</tspan><tspan x="2167" dy="20.4">海洋，比海洋更宽阔的是天空，比天空更宽阔</tspan><tspan x="2167" dy="20.4">的是人的心灵"。这一点是我不计较点滴的得</tspan><tspan x="2167" dy="20.4">失，总有一个好心情，也让我和同学搞好了关</tspan><tspan x="2167" dy="20.4">系，少了矛盾，多了快乐。</tspan></text></g>
<g id="b8-5"><rect class="lf" x="2158" y="4137.8" width="334" height="77.2" rx="8"/><text class="t" x="2167" y="4161.8"><tspan x="2167">竞选大队委不仅仅是一种荣誉，它更是一个人</tspan><tspan x="2167" dy="20.4">责任心的体现和培养。能够为全校同学服务，</tspan><tspan x="2167" dy="20.4">是我一直所希望的。</tspan></text></g>
<g id="b8-6"><rect class="lf" x="2158" y="4249.2" width="334" height="158.8" rx="8"/><text class="t" x="2167" y="4273.2"><tspan x="2167">假如我当上了大队干部，我会严格要求自己，</tspan><tspan x="2167" dy="20.4">以身作则。假如我当上了大队干部，会对队员</tspan><tspan x="2167" dy="20.4">们出谋划策，让同学们从中获益，懂得集体的</tspan><tspan x="2167" dy="20.4">温暖。假如我当上了大队干部，我会脚踏实地</tspan><tspan x="2167" dy="20.4">的完成老师交给我的任务，全心全意的为同学</tspan><tspan x="2167" dy="20.4">们服务。假如我当上了大队干部，我会与同学</tspan><tspan x="2167" dy="20.4">们共学习，共成长，共向上！</tspan></text></g>
<g id="b8-7"><rect class="lf" x="2158" y="4442.2" width="334" height="97.6" rx="8"/><text class="t" x="2167" y="4466.2"><tspan x="2167">上学期，我当上了副大队长，我知道，这离不</tspan><tspan x="2167" dy="20.4">开同学们对我的支持和信任。我爱同学，爱老</tspan><tspan x="2167" dy="20.4">师！自信会伴随着我前进！我的竞选岗位是大</tspan><tspan x="2167" dy="20.4">队长。</tspan></text></g>
<g id="b8-8"><rect class="lf" x="2158" y="4574" width="334" height="118" rx="8"/><text class="t" x="2167" y="4598"><tspan x="2167">请大家一如既往的支持我，信任我。我会更加</tspan><tspan x="2167" dy="20.4">出色！我知道，有的同学会说："你都六年级</tspan><tspan x="2167" dy="20.4">了，还能干好大队长这个重要的职位吗？"现</tspan><tspan x="2167" dy="20.4">在，我想告诉你："Yes，I can。是的，我能</tspan><tspan x="2167" dy="20.4">！"</tspan></text></g>
<g id="b8-9"><rect class="lf" x="2158" y="4726.2" width="96" height="36.4" rx="8"/><text class="t" x="2166" y="4750.2">谢谢大家！</text></g>
</g>
</svg>
